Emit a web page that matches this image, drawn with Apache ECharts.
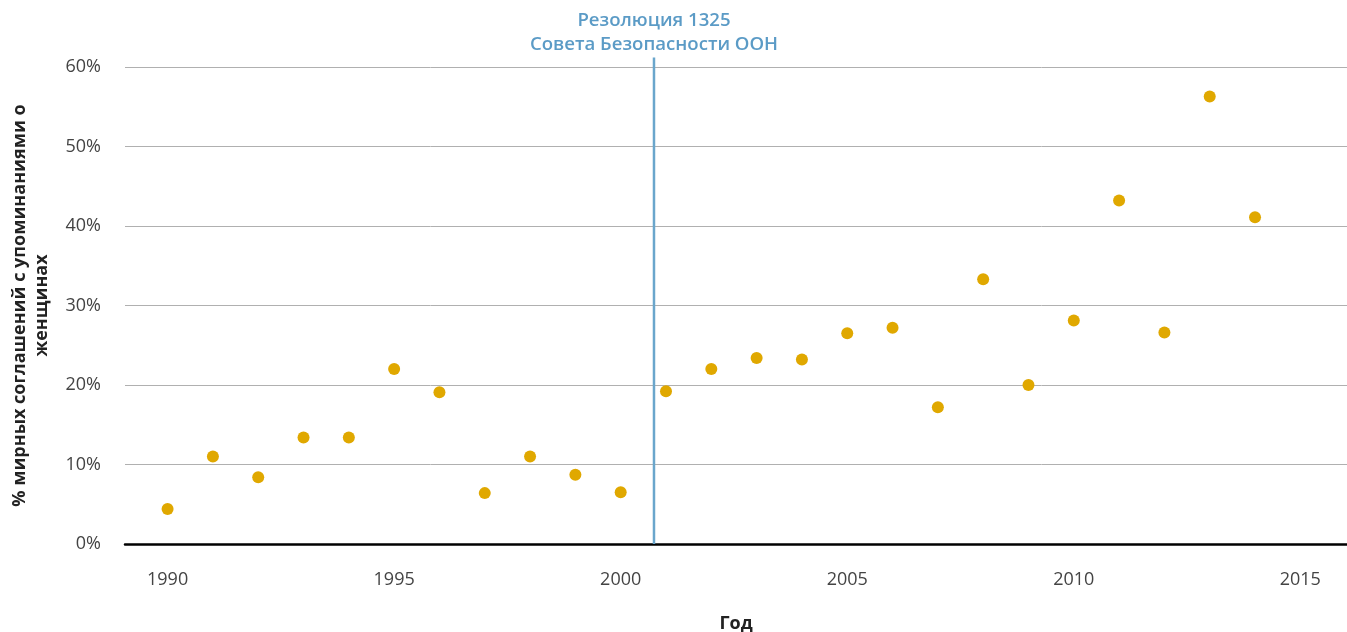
<!DOCTYPE html>
<html>
<head>
<meta charset="utf-8">
<script src="https://cdn.jsdelivr.net/npm/echarts@6/dist/echarts.min.js"></script>
<style>
html,body{margin:0;padding:0;background:#fff;}
#chart{width:1347px;height:632px;}
</style>
</head>
<body>
<div id="chart"></div>
<script>
// Data
const years = [1990,1991,1992,1993,1994,1995,1996,1997,1998,1999,2000,2001,2002,2003,2004,2005,2006,2007,2008,2009,2010,2011,2012,2013,2014];
const shareWithWomen = [4.4,11.0,8.4,13.4,13.4,22.0,19.1,6.4,11.0,8.7,6.5,19.2,22.0,23.4,23.2,26.5,27.2,17.2,33.3,20.0,28.1,43.2,26.6,56.3,41.1];
const xTickLabels = [1990,1995,2000,2005,2010,2015];
const resolutionYear = 2000.735;
const resolutionLineTop = 61.2;
const resolutionText = 'Резолюция 1325\nСовета Безопасности ООН';
const yTitle = '% мирных соглашений с упоминаниями о\nженщинах';
const xTitle = 'Год';

const font = '"Open Sans", "Noto Sans", sans-serif';
const chart = echarts.init(document.getElementById('chart'), null, {renderer:'canvas'});
chart.setOption({
  animation:false,
  backgroundColor:'#fff',
  grid:{left:125,right:0,top:67,bottom:88,containLabel:false,outerBoundsMode:'none'},
  xAxis:{
    type:'value', min:1989.06, max:2016.03,
    axisLine:{show:true,onZero:true,lineStyle:{color:'#000',width:2.5}},
    axisTick:{show:false},
    splitLine:{show:false},
    axisLabel:{customValues:xTickLabels,formatter:v=>String(Math.round(v)),fontFamily:font,fontSize:18,color:'#444',margin:27},
    name:xTitle, nameLocation:'middle', nameGap:71,
    nameTextStyle:{fontFamily:font,fontSize:18,fontWeight:'bold',color:'#222'}
  },
  yAxis:{
    type:'value', min:0, max:60, interval:10,
    axisLine:{show:false}, axisTick:{show:false},
    splitLine:{show:true,lineStyle:{color:'#b0b0b0',width:1}},
    axisLabel:{formatter:'{value}%',fontFamily:font,fontSize:18,color:'#444',margin:24},
    name:yTitle, nameLocation:'middle', nameRotate:90, nameGap:72,
    nameTextStyle:{fontFamily:font,fontSize:18,fontWeight:'bold',color:'#222',lineHeight:22,align:'center'}
  },
  series:[
    {
      type:'line', clip:false, silent:true,
      symbol:'circle', symbolSize:0,
      lineStyle:{color:'#6aa6cc',width:2.5},
      data:[
        [resolutionYear,0],
        {value:[resolutionYear,resolutionLineTop],
         label:{show:true,position:'top',distance:1,formatter:resolutionText,
                fontFamily:font,fontSize:18.6,fontWeight:600,color:'#5b9bc6',lineHeight:24,align:'center'}}
      ],
      z:1
    },
    {
      type:'scatter', symbol:'circle', symbolSize:12,
      itemStyle:{color:'#e0a800',opacity:1},
      data:years.map((y,i)=>[y,shareWithWomen[i]]),
      z:3
    }
  ]
});
</script>
</body>
</html>
